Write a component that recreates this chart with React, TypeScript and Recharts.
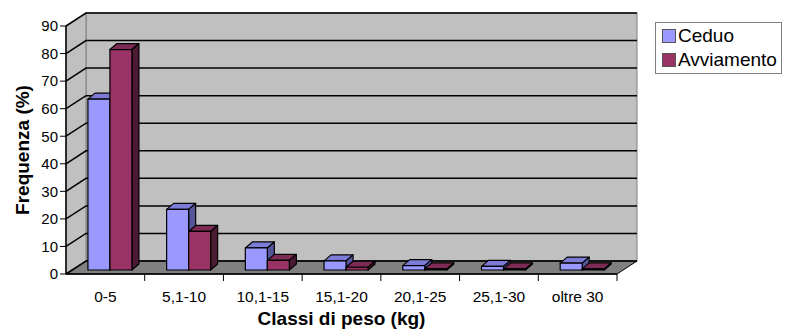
import { BarChart, Bar, XAxis, YAxis, CartesianGrid, ReferenceArea } from 'recharts';

// weight classes and % frequency per stand type
const categories = ['0-5', '5,1-10', '10,1-15', '15,1-20', '20,1-25', '25,1-30', 'oltre 30'];
const ceduo = [62, 22, 8, 3.3, 1.6, 1.3, 2.5];
const avviamento = [80, 14, 3.5, 1, 0.4, 0.4, 0.4];
const yTicks = [0, 10, 20, 30, 40, 50, 60, 70, 80, 90];

const seriesInfo = [
  { key: 'ceduo', name: 'Ceduo', front: '#9999ff', top: '#7c7cd6', side: '#55559a' },
  { key: 'avviamento', name: 'Avviamento', front: '#993366', top: '#7d2a54', side: '#4d1a33' },
];

const data = categories.map((c, i) => ({ name: c, ceduo: ceduo[i], avviamento: avviamento[i] }));

const FONT = '"Liberation Sans", Arial, sans-serif';

// wall depth offset
const DX = 20;
const DY = -13;
// bar placement inside the depth + bar's own depth
const SX = 5;
const SY = -4;
const BDX = 7;
const BDY = -6;

function Walls(props: any) {
  const { x, y, width, height } = props;
  const b = y + height;
  return (
    <g>
      <rect x={x + DX} y={y + DY} width={width} height={height} fill='#c0c0c0' stroke='#808080' />
      <polygon
        points={`${x},${y} ${x + DX},${y + DY} ${x + DX},${b + DY} ${x},${b}`}
        fill='#c0c0c0'
        stroke='#808080'
      />
      <polygon
        points={`${x},${b} ${x + DX},${b + DY} ${x + width + DX},${b + DY} ${x + width},${b}`}
        fill='#808080'
        stroke='#000'
      />
    </g>
  );
}

function GridLine(props: any) {
  const { x1, x2, y1 } = props;
  return (
    <polyline
      key={props.key ?? `g-${y1}`}
      points={`${x1},${y1} ${x1 + DX},${y1 + DY} ${x2 + DX},${y1 + DY}`}
      fill='none'
      stroke='#000'
      strokeWidth={1.5}
    />
  );
}

function makeBox(s: (typeof seriesInfo)[number]) {
  return (props: any) => {
    const { x, y, width, height } = props;
    if (width == null || height == null) return <g />;
    const fx = x + SX;
    const fy = y + SY;
    const w = width;
    const h = Math.max(height, 0);
    return (
      <g stroke='#000' strokeWidth={1.2} strokeLinejoin='round'>
        <polygon
          points={`${fx},${fy} ${fx + BDX},${fy + BDY} ${fx + w + BDX},${fy + BDY} ${fx + w},${fy}`}
          fill={s.top}
        />
        <polygon
          points={`${fx + w},${fy} ${fx + w + BDX},${fy + BDY} ${fx + w + BDX},${fy + h + BDY} ${fx + w},${fy + h}`}
          fill={s.side}
        />
        <rect x={fx} y={fy} width={w} height={h} fill={s.front} />
      </g>
    );
  };
}

function XTick(props: any) {
  const { x, y, payload } = props;
  const off = payload?.offset ?? 39.3;
  return (
    <g>
      <line x1={x + off} y1={y} x2={x + off} y2={y + 7} stroke='#000' />
      <text x={x} y={y + 28} textAnchor='middle' fontSize={15.5} fontFamily={FONT} fill='#000'>
        {payload.value}
      </text>
    </g>
  );
}

export default function App() {
  return (
    <div style={{ position: 'absolute', left: 0, top: 0, width: 785, height: 329, background: '#fff' }}>
      <BarChart
        width={785}
        height={329}
        data={data}
        margin={{ top: 26, right: 168, bottom: 0, left: 0 }}
        barCategoryGap='21.5%'
        barGap={0}
      >
        <ReferenceArea y1={0} y2={90} shape={Walls} zIndex={-200} ifOverflow='visible' />
        <CartesianGrid vertical={false} horizontal={GridLine} zIndex={-100} />
        <XAxis
          dataKey='name'
          height={55}
          tickLine={false}
          tickSize={0}
          tickMargin={0}
          tick={XTick}
          axisLine={{ stroke: '#000', strokeWidth: 1.5 }}
          interval={0}
          label={{
            value: 'Classi di peso (kg)',
            position: 'insideBottom',
            offset: 4,
            style: { fontFamily: FONT, fontSize: 19, fontWeight: 'bold', fill: '#000' },
          }}
        />
        <YAxis
          width={66}
          domain={[0, 90]}
          ticks={yTicks}
          interval={0}
          tickSize={6}
          tickMargin={2}
          tickLine={{ stroke: '#000' }}
          axisLine={{ stroke: '#000', strokeWidth: 1.5 }}
          tick={{ fontFamily: FONT, fontSize: 15, fill: '#000' }}
          label={{
            value: 'Frequenza (%)',
            angle: -90,
            position: 'insideLeft',
            offset: 22,
            style: { fontFamily: FONT, fontSize: 19, fontWeight: 'bold', fill: '#000', textAnchor: 'middle' },
          }}
        />
        {seriesInfo.map((s) => (
          <Bar key={s.key} dataKey={s.key} name={s.name} fill={s.front} shape={makeBox(s)} isAnimationActive={false} />
        ))}
      </BarChart>
      <div
        style={{
          position: 'absolute',
          left: 655,
          top: 22,
          width: 127,
          height: 52,
          border: '1px solid #808080',
          boxSizing: 'border-box',
          background: '#fff',
          fontFamily: FONT,
          fontSize: 19,
          lineHeight: '24px',
          paddingTop: 1,
        }}
      >
        {seriesInfo.map((s) => (
          <div key={s.key} style={{ display: 'flex', alignItems: 'center', height: 24 }}>
            <span
              style={{
                display: 'inline-block',
                width: 12,
                height: 12,
                background: s.front,
                border: '1px solid #555',
                marginLeft: 6,
                marginRight: 2,
              }}
            />
            <span>{s.name}</span>
          </div>
        ))}
      </div>
    </div>
  );
}
